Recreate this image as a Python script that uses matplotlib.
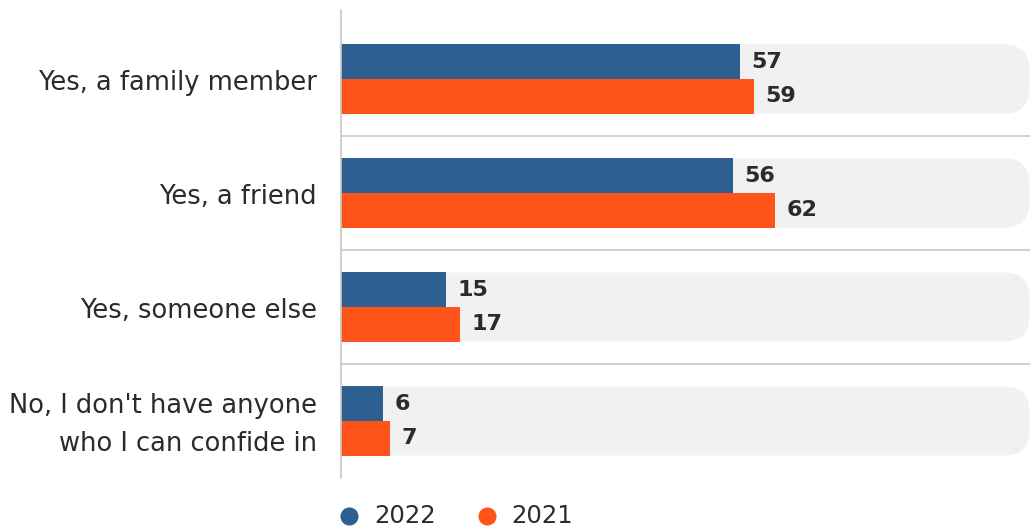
import matplotlib.pyplot as plt
from matplotlib.patches import FancyBboxPatch
from matplotlib.lines import Line2D

categories = ["Yes, a family member", "Yes, a friend", "Yes, someone else",
              "No, I don't have anyone\nwho I can confide in"]
vals_2022 = [57, 56, 15, 6]
vals_2021 = [59, 62, 17, 7]
years = ["2022", "2021"]

blue = "#2d5f91"
orange = "#fe5319"
grey_bg = "#f1f1f1"
txt = "#2b2b2b"
font = "DejaVu Sans"

fig = plt.figure(figsize=(10.30, 5.31), dpi=100)
ax = fig.add_axes([341 / 1030, 1 - 478 / 531, 1 - 341 / 1030, 468 / 531])

xmax = 689 / 7.0
ax.set_xlim(0, xmax)
ax.set_ylim(3.5, -0.605)

h = 0.303
for i in range(len(categories)):
    # grey background band, rounded on the right
    bg = FancyBboxPatch((-20, i - h), 20 + xmax - 0.1, 2 * h,
                        boxstyle="round,pad=0,rounding_size=3.6",
                        mutation_aspect=0.22 / 3.6,
                        fc=grey_bg, ec="none", zorder=0)
    ax.add_patch(bg)
    if i < len(categories) - 1:
        ax.axhline(i + 0.5, color="#c8c8c8", lw=1.2, zorder=0)

ys = list(range(len(categories)))
ax.barh([y - h / 2 for y in ys], vals_2022, height=h, color=blue, zorder=2)
ax.barh([y + h / 2 for y in ys], vals_2021, height=h, color=orange, zorder=2)

for y, v in zip(ys, vals_2022):
    ax.text(v + 1.6, y - h / 2, str(v), va="center", ha="left",
            fontsize=16, fontweight="bold", color=txt, family=font)
for y, v in zip(ys, vals_2021):
    ax.text(v + 1.6, y + h / 2, str(v), va="center", ha="left",
            fontsize=16, fontweight="bold", color=txt, family=font)

for y, c in zip(ys, categories):
    ax.text(-24 / 7.0, y + 0.035, c, va="center", ha="right", fontsize=18.5,
            color=txt, family=font, linespacing=1.6)

for s in ["top", "right", "bottom"]:
    ax.spines[s].set_visible(False)
ax.spines["left"].set_color("#c8c8c8")
ax.spines["left"].set_linewidth(1.2)
ax.set_xticks([])
ax.set_yticks([])

# legend drawn by hand
ly = 1 - 516 / 531
for xm, xt, col, lab in [(349, 374, blue, years[0]), (487, 511, orange, years[1])]:
    fig.add_artist(Line2D([xm / 1030], [ly], marker="o", ms=12, ls="none",
                          color=col, transform=fig.transFigure))
    fig.text(xt / 1030, ly, lab, va="center", ha="left", fontsize=17.5,
             color=txt, family=font)

fig.savefig("out.png", dpi=100)
